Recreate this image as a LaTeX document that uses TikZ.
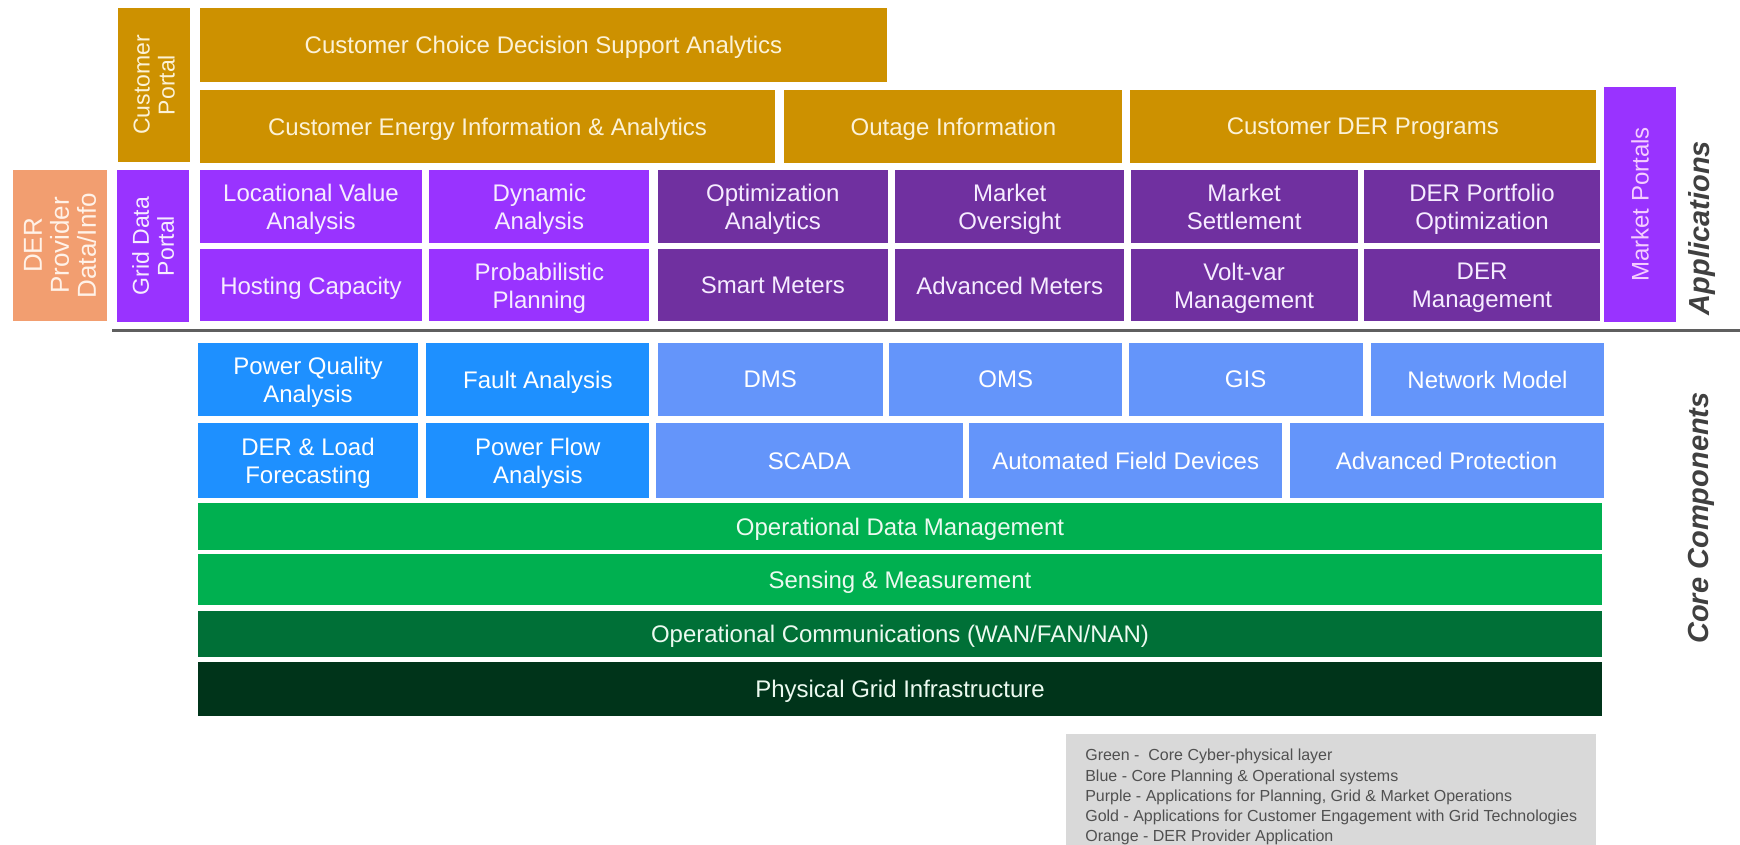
\documentclass[tikz,border=0pt]{standalone}
\usepackage{fontspec}
\setmainfont{Liberation Sans}
\usetikzlibrary{positioning}
\definecolor{goldfill}{RGB}{205,145,0}
\definecolor{goldtext}{RGB}{252,242,215}
\definecolor{orangefill}{RGB}{242,158,112}
\definecolor{orangetext}{RGB}{255,242,232}
\definecolor{violetfill}{RGB}{153,51,255}
\definecolor{purplefill}{RGB}{112,48,160}
\definecolor{purpletext}{RGB}{246,236,255}
\definecolor{bluefill}{RGB}{30,144,255}
\definecolor{skyfill}{RGB}{100,149,250}
\definecolor{greenfill}{RGB}{0,176,80}
\definecolor{forestfill}{RGB}{0,112,55}
\definecolor{pinefill}{RGB}{0,52,26}
\definecolor{greentext}{RGB}{236,250,240}
\definecolor{legendfill}{RGB}{217,217,217}
\definecolor{legendtext}{RGB}{80,80,80}
\definecolor{labeltext}{RGB}{64,64,64}
\definecolor{rulegray}{RGB}{95,95,95}
\tikzset{
  tile/.style = {rectangle, inner sep=0pt, align=center, text depth=0pt, font=\fontsize{24}{28}\selectfont},
  goldtile/.style = {tile, fill=goldfill, text=goldtext},
  violettile/.style = {tile, fill=violetfill, text=purpletext},
  purpletile/.style = {tile, fill=purplefill, text=purpletext},
  bluetile/.style = {tile, fill=bluefill, text=white},
  skytile/.style = {tile, fill=skyfill, text=white},
  greentile/.style = {tile, fill=greenfill, text=greentext},
  foresttile/.style = {tile, fill=forestfill, text=greentext},
  pinetile/.style = {tile, fill=pinefill, text=greentext},
  portal/.style = {rotate=90, font=\fontsize{23}{25}\selectfont},
  layerlabel/.style = {rotate=90, text=labeltext, font=\fontsize{29}{29}\selectfont\bfseries\itshape}
}

\begin{document}
\begin{tikzpicture}[x=1pt, y=-1pt]
\useasboundingbox (0,0) rectangle (1740,844);

    % Applications: customer (gold) rows
    \node [goldtile, portal, minimum width=154pt, minimum height=72pt] (custportal) at (154,85) {Customer\\Portal};
    \node [goldtile, minimum width=687pt, minimum height=74pt] (choice) at (543.5,45) {Customer Choice Decision Support Analytics};
    \node [goldtile, minimum width=575pt, minimum height=73pt] (energy) at (487.5,126.5) {Customer Energy Information \& Analytics};
    \node [goldtile, minimum width=338pt, minimum height=73pt, right=9pt of energy] (outage) {Outage Information};
    \node [goldtile, minimum width=466pt, minimum height=73pt, right=7pt of outage] (derprog) {Customer DER Programs};

    % Applications: planning, grid and market (purple) rows
    \node [tile, portal, fill=orangefill, text=orangetext, font=\fontsize{26}{27}\selectfont, minimum width=151pt, minimum height=94pt] (derinfo) at (60,245.5) {DER\\Provider\\Data/Info};
    \node [violettile, portal, minimum width=152pt, minimum height=72pt] (gridportal) at (153,246) {Grid Data\\Portal};
    \node [violettile, minimum width=222pt, minimum height=73pt] (locval) at (311,206.5) {Locational Value\\Analysis};
    \node [violettile, minimum width=220pt, minimum height=73pt, right=7pt of locval] (dynamic) {Dynamic\\Analysis};
    \node [purpletile, minimum width=230pt, minimum height=73pt, right=8pt of dynamic] (optim) {Optimization\\Analytics};
    \node [purpletile, minimum width=229pt, minimum height=73pt, right=7pt of optim] (oversight) {Market\\Oversight};
    \node [purpletile, minimum width=227pt, minimum height=73pt, right=6pt of oversight] (settle) {Market\\Settlement};
    \node [purpletile, minimum width=236pt, minimum height=73pt, right=6pt of settle] (portfolio) {DER Portfolio\\Optimization};

    \node [violettile, minimum width=222pt, minimum height=72pt, below=6pt of locval] (hosting) {Hosting Capacity};
    \node [violettile, minimum width=220pt, minimum height=72pt, below=6pt of dynamic] (probab) {Probabilistic\\Planning};
    \node [purpletile, minimum width=230pt, minimum height=72pt, below=6pt of optim] (smart) {Smart Meters};
    \node [purpletile, minimum width=229pt, minimum height=72pt, below=6pt of oversight] (advmeter) {Advanced Meters};
    \node [purpletile, minimum width=227pt, minimum height=72pt, below=6pt of settle] (voltvar) {Volt-var\\Management};
    \node [purpletile, minimum width=236pt, minimum height=72pt, below=6pt of portfolio] (dermgmt) {DER\\Management};

    \node [violettile, portal, text={rgb,255:red,245;green,205;blue,255}, font=\fontsize{24}{26}\selectfont, minimum width=235pt, minimum height=72pt] (mktportal) at (1640,204.5) {Market Portals};
    \node [layerlabel] (applab) at (1702,228) {Applications};

    % divider between the two layers
    \coordinate (ruleL) at (112,330);
    \coordinate (ruleR) at (1740,330);
    \draw [rulegray, line width=3pt] (ruleL) -- (ruleR);

    % Core components: planning and operational systems (blue)
    \node [bluetile, minimum width=220pt, minimum height=73pt] (pq) at (308,379.5) {Power Quality\\Analysis};
    \node [bluetile, minimum width=223pt, minimum height=73pt, right=8pt of pq] (fault) {Fault Analysis};
    \node [skytile, minimum width=225pt, minimum height=73pt, right=8pt of fault] (dms) {DMS};
    \node [skytile, minimum width=233pt, minimum height=73pt, right=6pt of dms] (oms) {OMS};
    \node [skytile, minimum width=234pt, minimum height=73pt, right=6pt of oms] (gis) {GIS};
    \node [skytile, minimum width=233pt, minimum height=73pt, right=8pt of gis] (netmodel) {Network Model};

    \node [bluetile, minimum width=220pt, minimum height=75pt, below=7pt of pq] (forecast) {DER \& Load\\Forecasting};
    \node [bluetile, minimum width=223pt, minimum height=75pt, below=7pt of fault] (pflow) {Power Flow\\Analysis};
    \node [skytile, minimum width=307pt, minimum height=75pt, right=6pt of pflow] (scada) {SCADA};
    \node [skytile, minimum width=313pt, minimum height=75pt, right=6pt of scada] (afd) {Automated Field Devices};
    \node [skytile, minimum width=314pt, minimum height=75pt, right=7pt of afd] (advprot) {Advanced Protection};

    % Core components: cyber-physical layer (green)
    \node [greentile, minimum width=1404pt, minimum height=47pt] (odm) at (900,526.5) {Operational Data Management};
    \node [greentile, minimum width=1404pt, minimum height=51pt, below=4pt of odm] (sensing) {Sensing \& Measurement};
    \node [foresttile, minimum width=1404pt, minimum height=46pt, below=5pt of sensing] (opcomm) {Operational Communications (WAN/FAN/NAN)};
    \node [pinetile, minimum width=1404pt, minimum height=54pt, below=5pt of opcomm] (physical) {Physical Grid Infrastructure};
    \node [layerlabel] (corelab) at (1701,518) {Core Components};

    % colour key
    \node [anchor=north west, fill=legendfill, text=legendtext, align=left,
           inner xsep=0pt, inner ysep=15pt, minimum width=530pt, minimum height=112pt,
           font=\fontsize{16}{20.2}\selectfont] (key) at (1066,734)
      {Green -\ \ Core Cyber-physical layer\\
       Blue - Core Planning \& Operational systems\\
       Purple - Applications for Planning, Grid \& Market Operations\\
       Gold - Applications for Customer Engagement with Grid Technologies\\
       Orange - DER Provider Application};

\end{tikzpicture}
\end{document}
